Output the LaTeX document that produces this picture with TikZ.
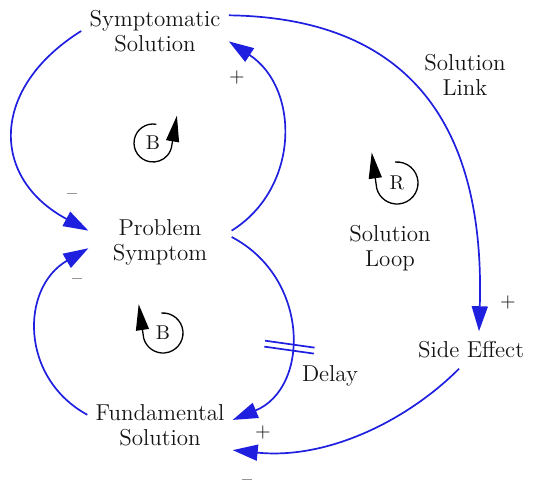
\documentclass[tikz,border=0pt]{standalone}
\usetikzlibrary{arrows.meta}
\definecolor{linkBlue}{HTML}{1F1FE0}
\definecolor{textGray}{HTML}{141414}

\begin{document}
\begin{tikzpicture}[
  x=0.5pt,y=0.5pt,
  font=\fontsize{11.5}{12.5}\selectfont,
  var/.style={align=center,inner xsep=4pt,inner ysep=2pt,text=textGray},
  link/.style={-{Triangle[length=12.5pt,width=8pt]},line width=.85pt,draw=linkBlue},
  lagmark/.style={line width=.85pt,draw=linkBlue},
  polarity/.style={font=\fontsize{10}{12}\selectfont,text=textGray},
  loopmark/.style={-{Triangle[length=13pt,width=6.5pt]},line width=.65pt,draw=black},
  loopname/.style={font=\fontsize{10}{12}\selectfont,text=textGray},
  caption/.style={align=center,text=textGray}
]
\useasboundingbox (0,0) rectangle (533,488);
% Variables of the fix-that-fails archetype, positions in pixel units.
\node[var] (sym) at (155,457) {Symptomatic\\Solution};
\node[var,inner xsep=12pt] (prob) at (160,246) {Problem\\Symptom};
\node[var] (fund) at (160,63) {Fundamental\\Solution};
\node[var,inner ysep=5pt] (side) at (471,138) {Side Effect};

% Causal links; the symptom-to-solution link carries a delay mark.
\draw[link] (sym.west) .. controls (-10,400) and (-10,310) .. (prob.171);
\draw[link] (prob.9) .. controls (300,300) and (300,400) .. (sym.-8);
\draw[link] (prob.4) .. controls (310,210) and (310,100) .. (fund.4) coordinate[pos=.57] (lag);
\draw[link] (fund.172) .. controls (20,110) and (20,200) .. (prob.185);
\draw[link] (sym.12) .. controls (420,470) and (485,350) .. ([xshift=4pt]side.north);
\draw[link] ([xshift=-6pt]side.south) .. controls (410,70) and (330,28) .. (fund.south east);
\draw[lagmark,shift={(lag)},rotate=-8] (-25,3) -- (25,3) (-25,-3) -- (25,-3);

% Link polarities.
\node[polarity] (pol1) at (72,291) {--};
\node[polarity] (pol2) at (237,410) {+};
\node[polarity] (pol3) at (77,206) {--};
\node[polarity] (pol4) at (263,56) {+};
\node[polarity] (pol5) at (508,186) {+};
\node[polarity] (pol6) at (247,5) {--};

% Loop markers.
\node[loopname] (loopB1) at (153,345) {B};
\draw[loopmark] (loopB1.center) ++(80:19) arc[start angle=80,end angle=355,radius=9.5pt] -- ++(5,29);
\node[loopname] (loopB2) at (163,155) {B};
\draw[loopmark] (loopB2.center) ++(95:20) arc[start angle=95,end angle=-165,radius=10pt] -- ++(-5,34);
\node[loopname] (loopR) at (397,305) {R};
\draw[loopmark] (loopR.center) ++(95:21) arc[start angle=95,end angle=-165,radius=10.5pt] -- ++(-5,36);

\node[caption] (linkname) at (465,413) {Solution\\Link};
\node[caption] (loopcap) at (390,240) {Solution\\Loop};
\node[caption] (lagname) at (330,112) {Delay};
\end{tikzpicture}
\end{document}
